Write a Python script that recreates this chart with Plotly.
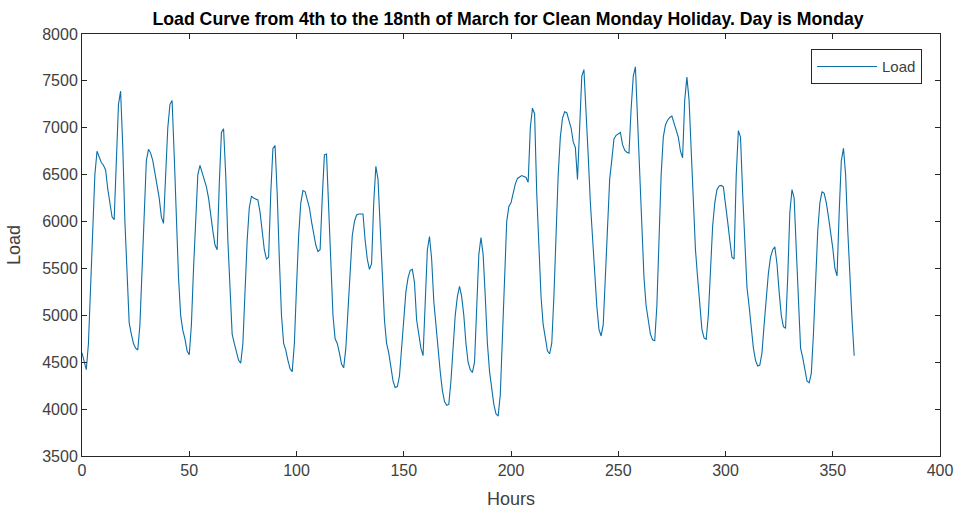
import plotly.graph_objects as go

hours = list(range(0, 361))

day00 = [4600, 4520, 4420, 4700, 5300, 5950, 6500, 6750, 6680, 6630, 6600, 6550, 6350, 6200, 6050, 6020, 6700, 7250, 7390, 6800, 6000, 5400, 4920, 4800]
day01 = [4700, 4650, 4630, 4900, 5500, 6200, 6650, 6770, 6730, 6650, 6520, 6400, 6250, 6050, 5980, 6500, 7000, 7250, 7290, 6700, 6000, 5400, 5000, 4840]
day02 = [4750, 4620, 4580, 4900, 5500, 6100, 6500, 6600, 6530, 6450, 6370, 6250, 6050, 5900, 5750, 5700, 6400, 6950, 6990, 6500, 5800, 5200, 4800, 4700]
day03 = [4600, 4520, 4490, 4700, 5250, 5800, 6150, 6270, 6250, 6240, 6230, 6100, 5900, 5700, 5600, 5620, 6300, 6780, 6810, 6300, 5600, 5000, 4700, 4630]
day04 = [4520, 4430, 4400, 4700, 5300, 5850, 6200, 6330, 6320, 6240, 6150, 6000, 5850, 5750, 5680, 5700, 6250, 6710, 6720, 6150, 5500, 5000, 4750, 4700]
day05 = [4600, 4480, 4440, 4650, 5050, 5500, 5850, 6000, 6070, 6080, 6082, 6080, 5800, 5600, 5490, 5550, 6200, 6590, 6450, 5950, 5400, 4950, 4700, 4600]
day06 = [4450, 4300, 4230, 4240, 4350, 4650, 5000, 5250, 5400, 5480, 5490, 5350, 4950, 4800, 4650, 4570, 5100, 5700, 5840, 5600, 5150, 4900, 4600, 4400]
day07 = [4200, 4080, 4040, 4050, 4300, 4700, 5000, 5200, 5310, 5200, 5000, 4700, 4500, 4420, 4390, 4500, 5100, 5650, 5830, 5650, 5200, 4700, 4400, 4240]
day08 = [4050, 3950, 3926, 4150, 4800, 5500, 6000, 6160, 6200, 6300, 6400, 6460, 6480, 6490, 6480, 6470, 6420, 7000, 7210, 7150, 6300, 5700, 5200, 4900]
day09 = [4750, 4620, 4590, 4700, 5200, 5900, 6500, 6900, 7100, 7170, 7160, 7080, 7000, 6850, 6790, 6450, 7100, 7550, 7620, 7200, 6700, 6200, 5800, 5500]
day10 = [5100, 4850, 4780, 4900, 5400, 6000, 6450, 6660, 6880, 6920, 6940, 6950, 6820, 6760, 6740, 6730, 7200, 7550, 7650, 7100, 6500, 5900, 5400, 5100]
day11 = [4950, 4800, 4740, 4730, 5100, 5800, 6500, 6900, 7030, 7080, 7110, 7125, 7050, 6950, 6900, 6750, 6680, 7300, 7540, 7300, 6700, 6100, 5700, 5400]
day12 = [5100, 4850, 4760, 4745, 5000, 5500, 5950, 6200, 6340, 6380, 6385, 6370, 6150, 6000, 5800, 5620, 5600, 6500, 6970, 6900, 6300, 5700, 5300, 5100]
day13 = [4850, 4650, 4520, 4460, 4470, 4600, 4900, 5200, 5450, 5620, 5700, 5730, 5550, 5250, 5000, 4880, 4860, 5400, 6100, 6340, 6250, 5700, 5100, 4650]
day14 = [4550, 4400, 4300, 4280, 4380, 4800, 5400, 5900, 6200, 6320, 6300, 6200, 6050, 5900, 5720, 5500, 5420, 6100, 6650, 6780, 6500, 5900, 5350, 4950, 4570]

load = (day00 + day01 + day02 + day03 + day04 + day05 + day06 + day07 +
        day08 + day09 + day10 + day11 + day12 + day13 + day14)

x_ticks = [0, 50, 100, 150, 200, 250, 300, 350, 400]
y_ticks = [3500, 4000, 4500, 5000, 5500, 6000, 6500, 7000, 7500, 8000]

FONT = "Liberation Sans, Arial, Helvetica, sans-serif"
AX = "#262626"
TK = "#404040"

fig = go.Figure()
fig.add_trace(go.Scatter(x=hours, y=load, mode="lines", name="Load",
                         line=dict(color="#0a6fa8", width=1.1)))

axis_common = dict(showline=True, linecolor=AX, linewidth=1, mirror="ticks",
                   ticks="inside", ticklen=5, tickcolor=AX, showgrid=False,
                   zeroline=False, automargin=False,
                   tickfont=dict(family=FONT, size=16, color=TK))

fig.update_layout(
    width=955, height=511,
    margin=dict(l=82, r=15, t=34, b=55),
    paper_bgcolor="white", plot_bgcolor="white",
    title=dict(text="<b>Load Curve from 4th to the 18nth of March for Clean Monday Holiday. Day is Monday</b>",
               x=0.532, xanchor="center", y=0.964, yanchor="middle",
               font=dict(family=FONT, size=17.7, color="black")),
    xaxis=dict(range=[0, 400], tickvals=x_ticks,
               title=dict(text="Hours", font=dict(family=FONT, size=18, color=TK), standoff=14),
               **axis_common),
    yaxis=dict(range=[3500, 8000], tickvals=y_ticks,
               title=dict(text="Load", font=dict(family=FONT, size=18, color=TK), standoff=16),
               **axis_common),
    showlegend=True,
    legend=dict(x=0.979, y=0.964, xanchor="right", yanchor="top",
                bgcolor="white", bordercolor=AX, borderwidth=1,
                font=dict(family=FONT, size=15, color=TK),
                itemwidth=60, tracegroupgap=0),
)

fig.write_html("out.html")
